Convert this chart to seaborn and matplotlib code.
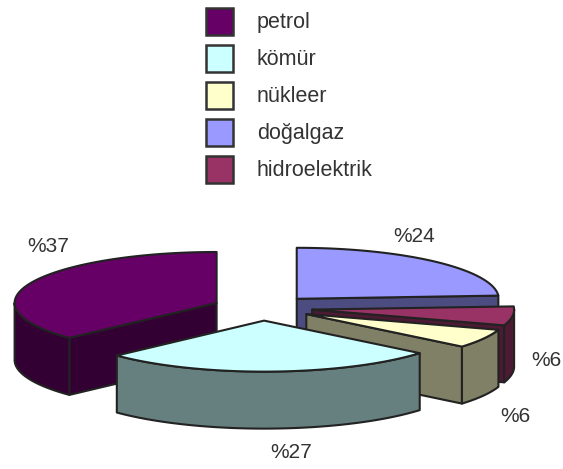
import numpy as np
import matplotlib
matplotlib.use("Agg")
import matplotlib.pyplot as plt
from matplotlib.patches import Patch
import seaborn as sns

# data
names = ["petrol", "kömür", "nükleer", "doğalgaz", "hidroelektrik"]
shares = [37, 27, 6, 24, 6]
top_colors = ["#660066", "#CCFFFF", "#FFFFCC", "#9999FF", "#993366"]
side_colors = ["#330033", "#668080", "#808066", "#4C4C80", "#4C1A33"]
clockwise = ["doğalgaz", "hidroelektrik", "nükleer", "kömür", "petrol"]
paint_order = ["doğalgaz", "petrol", "hidroelektrik", "nükleer", "kömür"]
label_texts = ["%37", "%27", "%6", "%24", "%6"]
label_pos = [(48, 247), (291, 453), (515, 416), (414, 237), (546, 360)]

# pie geometry
CX, CY, RX, RY, DEPTH, EXPLODE = 262.5, 308, 202, 51, 57, 50
EDGE = "#222222"
LW = 1.5
FONT = ["Liberation Sans", "DejaVu Sans"]

sns.set_theme(style="white")
plt.rcParams["font.family"] = FONT
fig = plt.figure(figsize=(5.63, 4.69), dpi=100)
ax = fig.add_axes([0, 0, 1, 1])
ax.set_xlim(0, 563)
ax.set_ylim(469, 0)
ax.axis("off")

idx = {n: i for i, n in enumerate(names)}
vals = np.array([shares[idx[n]] for n in clockwise], float)
ends = np.cumsum(vals) / vals.sum() * 2 * np.pi
starts = ends - vals / vals.sum() * 2 * np.pi
span = {n: (s, e) for n, s, e in zip(clockwise, starts, ends)}


def pt(a, cx, cy):
    return cx + RX * np.sin(a), cy - RY * np.cos(a)


def quad(x, y, color, z):
    ax.fill(x, y, facecolor=color, edgecolor=EDGE, linewidth=LW, joinstyle="round", zorder=z)


for z, n in enumerate(paint_order):
    s, e = span[n]
    mid = (s + e) / 2
    cx = CX + EXPLODE * np.sin(mid)
    cy = CY - EXPLODE * RY / RX * np.cos(mid)
    i = idx[n]
    side = side_colors[i]
    # radial cut faces
    for a, vis in ((s, np.pi < s < 2 * np.pi), (e, 0 < e < np.pi)):
        if vis:
            px, py = pt(a, cx, cy)
            quad([cx, px, px, cx], [cy, py, py + DEPTH, cy + DEPTH], side, z + 0.1)
    # outer rim facing the viewer
    lo, hi = max(s, np.pi / 2), min(e, 3 * np.pi / 2)
    if hi > lo:
        t = np.linspace(lo, hi, 80)
        rx, ry = pt(t, cx, cy)
        quad(np.r_[rx, rx[::-1]], np.r_[ry, ry[::-1] + DEPTH], side, z + 0.2)
    # top face
    t = np.linspace(s, e, 120)
    tx, ty = pt(t, cx, cy)
    quad(np.r_[cx, tx], np.r_[cy, ty], top_colors[i], z + 0.3)

for txt, (x, y) in zip(label_texts, label_pos):
    ax.text(x, y, txt, ha="center", va="center", fontsize=15, color="#333333", zorder=20)

handles = [Patch(facecolor=c, edgecolor="#333333", linewidth=1.8) for c in top_colors]
leg = ax.legend(
    handles, names, loc="upper left", bbox_to_anchor=(201.5 / 563, 1 - 3.5 / 469),
    frameon=False, fontsize=15.5, handlelength=1.25, handleheight=1.55,
    labelspacing=0.465, handletextpad=1.12, borderpad=0.2, borderaxespad=0, labelcolor="#333333",
)
fig.savefig("out.png", dpi=100)
